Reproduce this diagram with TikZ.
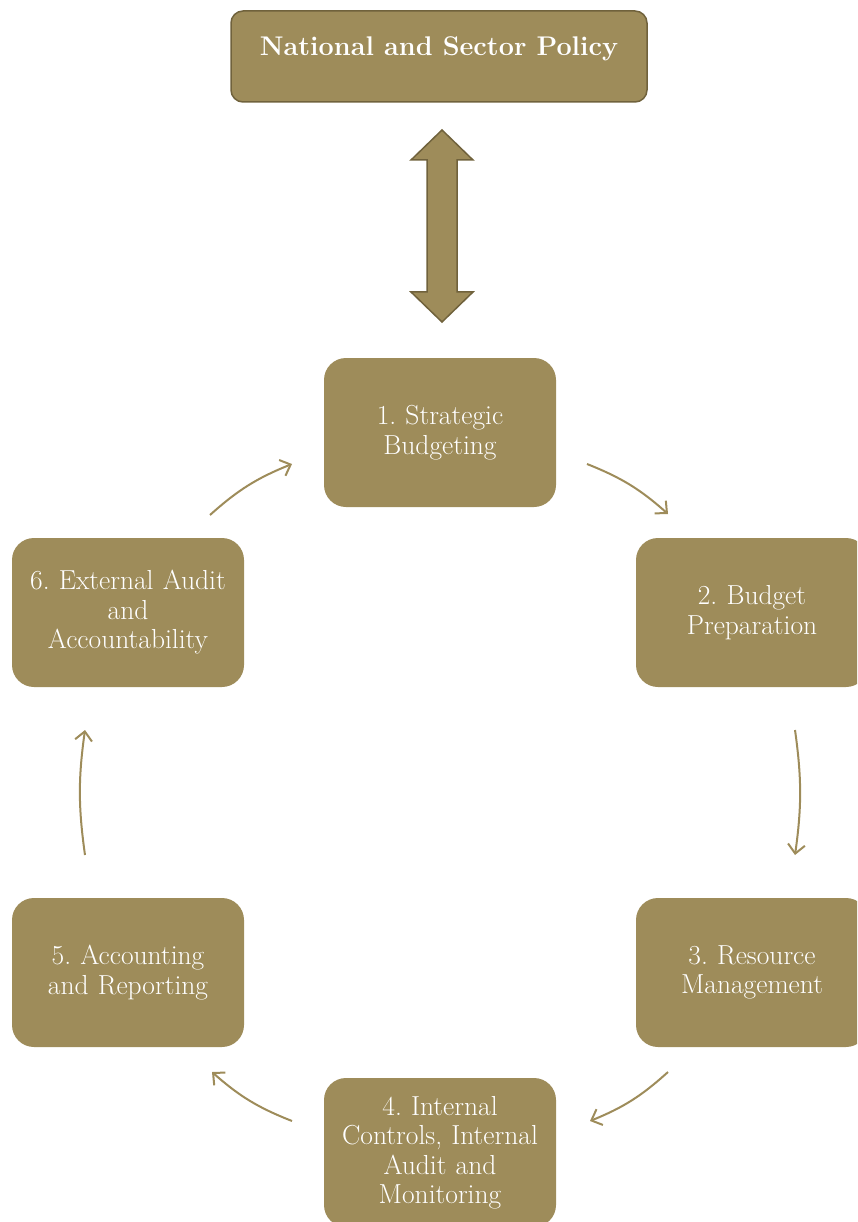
\documentclass[tikz,border=0pt]{standalone}
\usetikzlibrary{arrows.meta}
\definecolor{olive}{RGB}{158,140,90}
\definecolor{olivedark}{RGB}{112,98,60}
\tikzset{
  stagebox/.style={fill=olive, rounded corners=22pt, minimum width=232pt, minimum height=149pt,
    inner sep=0pt, text=white, align=center, text width=228pt,
    font=\frenchspacing\fontsize{27.5}{29.5}\selectfont},
  policybox/.style={fill=olive, draw=olivedark, line width=1.5pt, rounded corners=12pt,
    minimum width=416pt, minimum height=91pt, inner sep=0pt, text=white,
    font=\bfseries\fontsize{27}{32}\selectfont},
  cyc/.style={draw=olive, line width=2pt, -{Straight Barb[length=9pt,width=17pt,line width=2pt]}},
}
\begin{document}
\begin{tikzpicture}[x=1pt,y=-1pt]
\useasboundingbox (0,0) rectangle (857,1222);
\clip (0,0) rectangle (857,1222);
\node[policybox] (policy) at (439,56.5) {\raisebox{21pt}{National and Sector Policy}};
% double arrow
\filldraw[fill=olive, draw=olivedark, line width=1.5pt]
  (442,130) -- (473,160) -- (457,160) -- (457,292) -- (473,292) -- (442,322)
  -- (411,292) -- (427,292) -- (427,160) -- (411,160) -- cycle;
\node[stagebox] (s1) at (440,432.5) {1. Strategic\\Budgeting};
\node[stagebox] (s2) at (752,612.5) {2. Budget\\Preparation};
\node[stagebox] (s3) at (752,972.5) {3. Resource\\Management};
\node[stagebox] (s4) at (440,1152.5) {4. Internal\\Controls, Internal\\Audit and\\Monitoring};
\node[stagebox] (s5) at (128,972.5) {5. Accounting\\and Reporting};
\node[stagebox] (s6) at (128,612.5) {6. External Audit\\and\\Accountability};
\coordinate (a6) at (210,515); \coordinate (b1) at (292,464);
\coordinate (a1) at (587,464); \coordinate (b2) at (668,514);
\coordinate (a2) at (795,730); \coordinate (b3) at (795,855);
\coordinate (a3) at (668,1072); \coordinate (b4) at (590,1121);
\coordinate (a4) at (292,1121); \coordinate (b5) at (212,1072);
\coordinate (a5) at (85,855); \coordinate (b6) at (85,730);
\draw[cyc] (a6) to[bend left=10] (b1);
\draw[cyc] (a1) to[bend left=10] (b2);
\draw[cyc] (a2) to[bend left=8] (b3);
\draw[cyc] (a3) to[bend left=10] (b4);
\draw[cyc] (a4) to[bend left=10] (b5);
\draw[cyc] (a5) to[bend left=8] (b6);
\end{tikzpicture}
\end{document}
